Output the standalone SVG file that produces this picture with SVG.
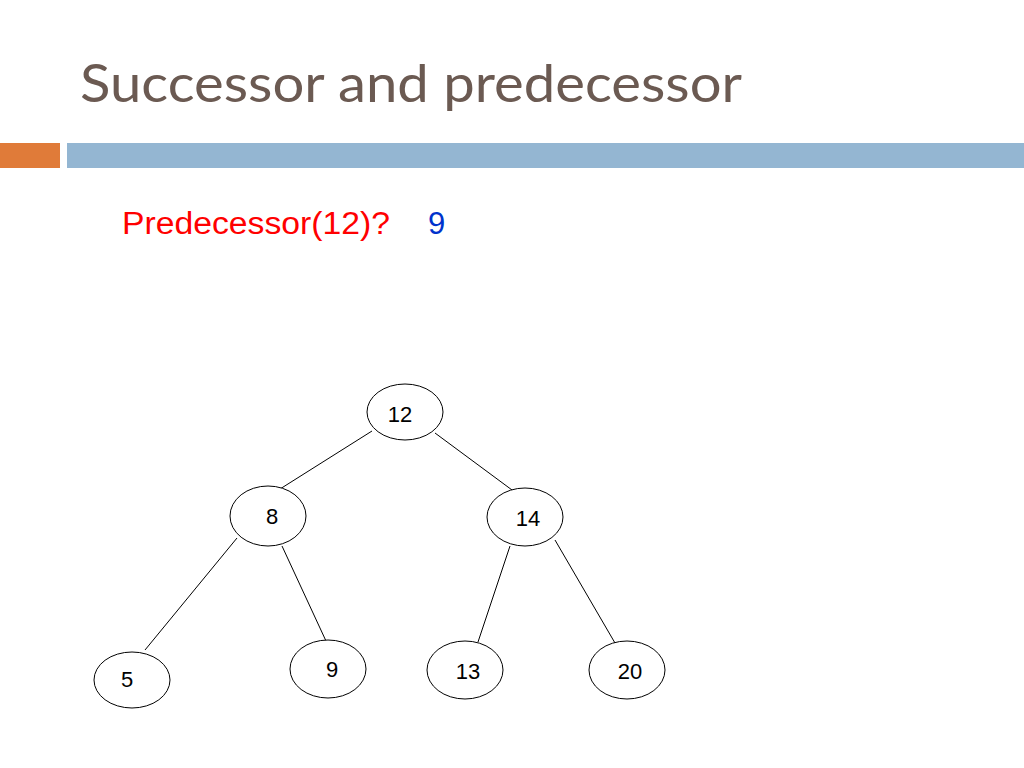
<svg xmlns="http://www.w3.org/2000/svg" width="1024" height="768" viewBox="0 0 1024 768">
<style>
.n ellipse{fill:#fff;stroke:#000;stroke-width:1}
.n text{font-family:"Liberation Sans",Arial,sans-serif;font-size:22px;text-anchor:middle}
#edges line{stroke:#000;stroke-width:1}
</style>
<rect width="1024" height="768" fill="#fff"/>
<text x="80" y="102" font-family="Lato,'Open Sans',sans-serif" font-size="52" fill="#6b5a52" textLength="662" lengthAdjust="spacingAndGlyphs">Successor and predecessor</text>
<rect x="0" y="143" width="60" height="25" fill="#e07b39"/>
<rect x="67" y="143" width="957" height="25" fill="#94b6d2"/>
<text x="122" y="234" font-family="'Liberation Sans',Arial,sans-serif" font-size="31" fill="#f00" textLength="268" lengthAdjust="spacingAndGlyphs">Predecessor(12)?</text>
<text x="428" y="234" font-family="'Liberation Sans',Arial,sans-serif" font-size="31" fill="#0033cc">9</text>
<g id="edges">
<line x1="372" y1="431" x2="280" y2="489"/>
<line x1="435" y1="433" x2="512" y2="490"/>
<line x1="237" y1="538" x2="145" y2="650"/>
<line x1="282" y1="546" x2="326" y2="641"/>
<line x1="510" y1="546" x2="478" y2="642"/>
<line x1="555" y1="540" x2="615" y2="643"/>
</g>
<g id="n12" class="n"><ellipse cx="405" cy="412" rx="38" ry="28"/><text x="400" y="422">12</text></g>
<g id="n8" class="n"><ellipse cx="268" cy="516" rx="38" ry="30"/><text x="272" y="524">8</text></g>
<g id="n14" class="n"><ellipse cx="525" cy="517" rx="38" ry="29"/><text x="528" y="526">14</text></g>
<g id="n5" class="n"><ellipse cx="132" cy="680" rx="38" ry="28"/><text x="127" y="687">5</text></g>
<g id="n9" class="n"><ellipse cx="328" cy="669" rx="38" ry="29"/><text x="332" y="677">9</text></g>
<g id="n13" class="n"><ellipse cx="465" cy="670" rx="38" ry="29"/><text x="468" y="679">13</text></g>
<g id="n20" class="n"><ellipse cx="627" cy="670" rx="38" ry="29"/><text x="630" y="679">20</text></g>
</svg>
